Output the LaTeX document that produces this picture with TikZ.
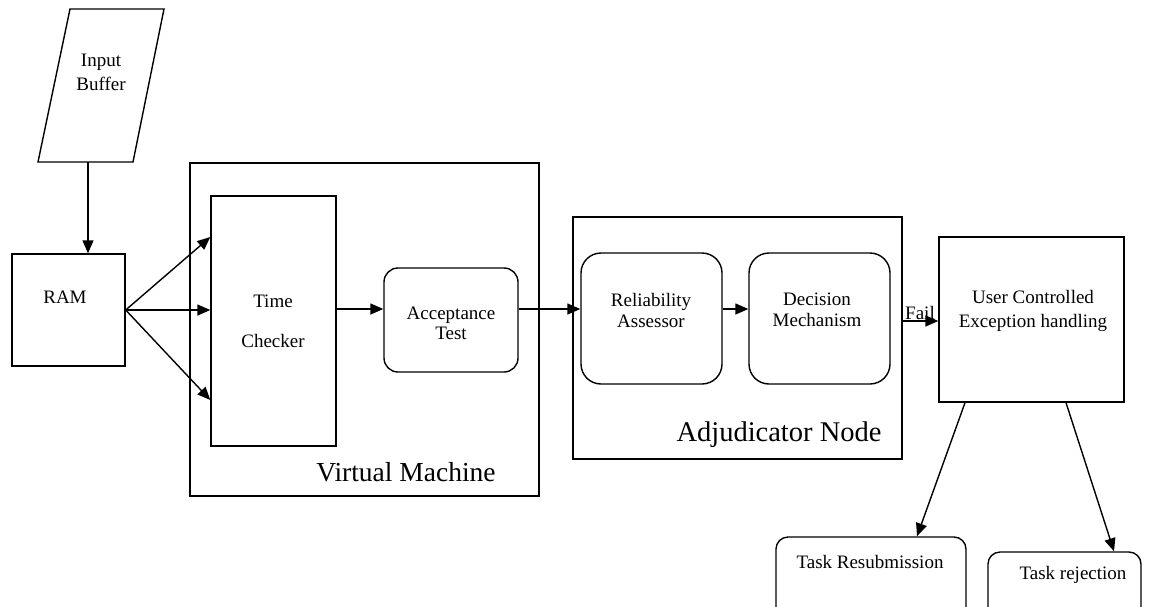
\documentclass[tikz,border=0pt]{standalone}
\usepackage{fontspec}
\setmainfont{Liberation Serif}
\usetikzlibrary{arrows.meta}
\tikzset{
  box/.style={draw, line width=1.4pt, inner sep=0pt, rectangle},
  rbox/.style={draw, line width=1.4pt, inner sep=0pt, rectangle, rounded corners=14pt},
  txt/.style={inner sep=0pt, align=center, font=\fontsize{19}{21}\selectfont},
  bigtxt/.style={inner sep=0pt, font=\fontsize{27.5}{30}\selectfont},
  arr/.style={line width=1.4pt, -{Triangle[length=13pt,width=11pt]}},
}
\begin{document}
\begin{tikzpicture}[x=1pt,y=-1pt]
\useasboundingbox (0,0) rectangle (1151,606);
\clip (0,0) rectangle (1151,606);
% Input buffer (parallelogram)
\draw[line width=1.4pt] (70,9) -- (164,9) -- (133,162) -- (38,162) -- cycle;
\coordinate (ibbot) at (88,162);
\node[txt, font=\fontsize{19}{24}\selectfont] (ibt) at (101,72) {Input\\Buffer};
% RAM
\node[box, minimum width=113pt, minimum height=112pt] (ram) at (68.5,310) {};
\node[txt] (ramt) at (65,297) {RAM};
% Virtual machine
\node[box, minimum width=349pt, minimum height=333pt] (vm) at (364.5,329.5) {};
\node[bigtxt] (vmt) at (406,472) {Virtual Machine};
\node[box, minimum width=125pt, minimum height=250pt] (tc) at (273.5,321) {};
\node[txt, font=\fontsize{19}{40}\selectfont] (tct) at (273,321) {Time\\Checker};
\node[rbox, minimum width=134pt, minimum height=104pt] (acc) at (451,320) {};
\node[txt, font=\fontsize{19}{20}\selectfont] (acct) at (451,323) {Acceptance\\Test};
% Adjudicator
\node[box, minimum width=329pt, minimum height=242pt] (adj) at (737.5,338) {};
\node[bigtxt, font=\fontsize{28.5}{30}\selectfont] (adjt) at (779,435) {Adjudicator Node};
\node[rbox, rounded corners=20pt, minimum width=141pt, minimum height=131pt] (rel) at (651.5,318.5) {};
\node[txt] (relt) at (651,310) {Reliability\\Assessor};
\node[rbox, rounded corners=20pt, minimum width=141pt, minimum height=131pt] (dec) at (819.5,318.5) {};
\node[txt] (dect) at (817,310) {Decision\\Mechanism};
% User controlled
\node[box, minimum width=185pt, minimum height=165pt] (user) at (1031.5,319.5) {};
\node[txt, font=\fontsize{19}{24}\selectfont] (usert) at (1033,311) {User Controlled\\Exception handling};
\node[txt] (fail) at (920,313) {Fail};
% bottom boxes
\node[rbox, rounded corners=12pt, minimum width=190pt, minimum height=120pt] (resub) at (871,597) {};
\node[txt] (resubt) at (870,562) {Task Resubmission};
\node[rbox, rounded corners=12pt, minimum width=153pt, minimum height=120pt] (rej) at (1064.5,612) {};
\node[txt] (rejt) at (1073,575) {Task rejection};
% connectors
\draw[arr] (ibbot) -- (ram.north -| ibbot);
\draw[arr] (ram.east) -- (tc.west |- 0,237);
\draw[arr] (ram.east) -- (tc.west |- ram.east);
\draw[arr] (ram.east) -- (tc.west |- 0,400);
\draw[arr] (tc.east |- 0,309) -- (acc.west |- 0,309);
\draw[arr] (acc.east |- 0,309) -- (rel.west |- 0,309);
\draw[arr] (rel.east |- 0,309) -- (dec.west |- 0,309);
\draw[arr] (adj.east |- 0,321) -- (user.west |- 0,321);
\draw[arr] (user.south -| 965,0) -- (resub.north -| 917,0);
\draw[arr] (user.south -| 1066,0) -- (rej.north -| 1114,0);
\end{tikzpicture}
\end{document}
